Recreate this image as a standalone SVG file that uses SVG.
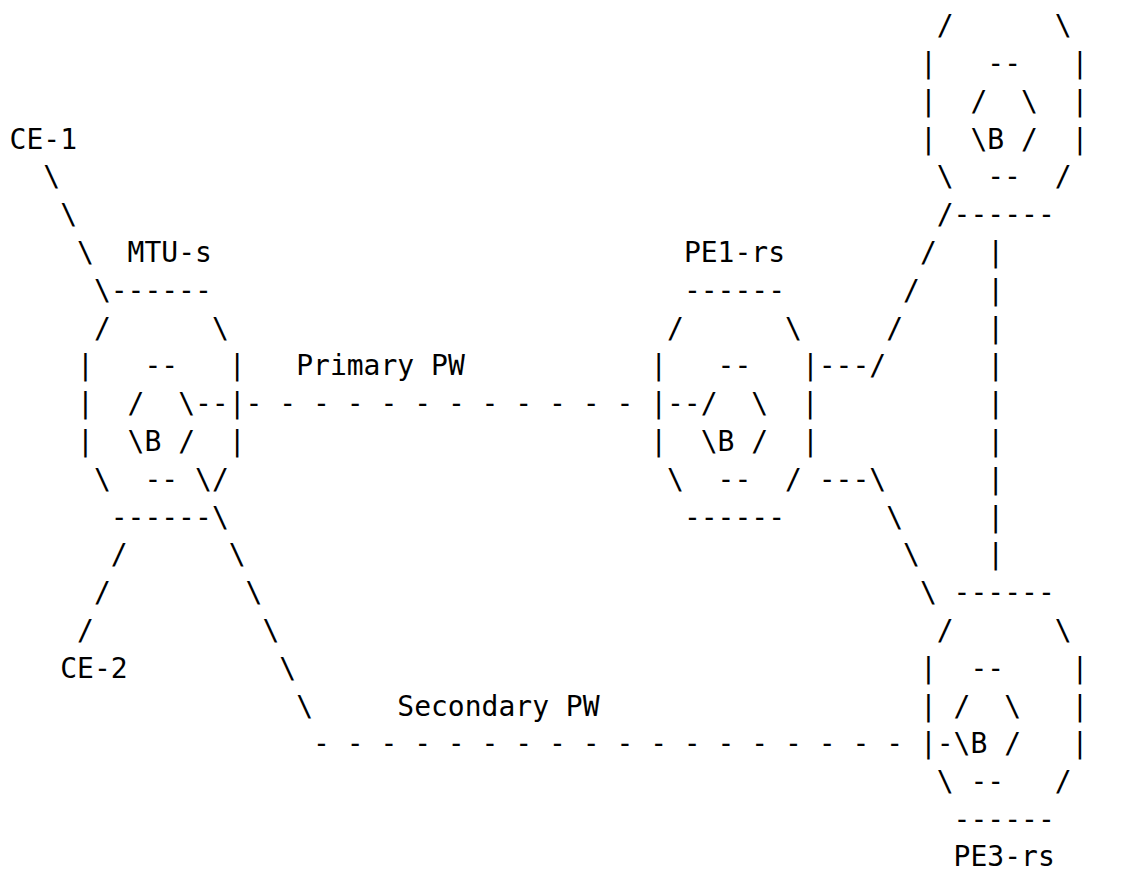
<svg xmlns="http://www.w3.org/2000/svg" width="1121" height="869" viewBox="0 0 1121 869" xml:space="preserve">
<style>
text { font-family: "DejaVu Sans Mono", "Liberation Mono", monospace; font-size: 28px; fill: #000; white-space: pre; }
</style>
<rect x="0" y="0" width="1121" height="869" fill="#fff"/>
<g id="CE-1"><text x="9.6" y="148.5">CE-1</text></g>
<g id="CE-2"><text x="60.2" y="677.7">CE-2</text></g>
<g id="MTU-s">
<text x="127.6" y="261.9">MTU-s</text>
<text x="110.7" y="299.7">------</text>
<text x="93.9" y="337.5">/      \</text>
<text x="77.0" y="375.3">|   --   |</text>
<text x="77.0" y="413.1">|  /  \</text>
<text x="228.7" y="413.1">|</text>
<text x="77.0" y="450.9">|  \B /  |</text>
<text x="93.9" y="488.7">\  --</text>
<text x="211.9" y="488.7">/</text>
<text x="110.7" y="526.5">------</text>
</g>
<g id="PE1-rs">
<text x="683.9" y="261.9">PE1-rs</text>
<text x="683.9" y="299.7">------</text>
<text x="667.0" y="337.5">/      \</text>
<text x="650.2" y="375.3">|   --   |</text>
<text x="650.2" y="413.1">|</text>
<text x="700.7" y="413.1">/  \  |</text>
<text x="650.2" y="450.9">|  \B /  |</text>
<text x="667.0" y="488.7">\  --  /</text>
<text x="683.9" y="526.5">------</text>
</g>
<g id="PE2-rs">
<text x="936.7" y="35.1">/      \</text>
<text x="919.9" y="72.9">|   --   |</text>
<text x="919.9" y="110.7">|  /  \  |</text>
<text x="919.9" y="148.5">|  \B /  |</text>
<text x="936.7" y="186.3">\  --  /</text>
<text x="953.6" y="224.1">------</text>
</g>
<g id="PE3-rs">
<text x="953.6" y="602.1">------</text>
<text x="936.7" y="639.9">/      \</text>
<text x="919.9" y="677.7">|  --    |</text>
<text x="919.9" y="715.5">| /  \   |</text>
<text x="919.9" y="753.3">|</text>
<text x="953.6" y="753.3">\B /   |</text>
<text x="936.7" y="791.1">\ --   /</text>
<text x="953.6" y="828.9">------</text>
<text x="953.6" y="865.5">PE3-rs</text>
</g>
<g id="connectors">
<g id="ce1-link">
<text x="43.3" y="186.3">\</text>
<text x="60.2" y="224.1">\</text>
<text x="77.0" y="261.9">\</text>
<text x="93.9" y="299.7">\</text>
</g>
<g id="ce2-link">
<text x="110.7" y="564.3">/</text>
<text x="93.9" y="602.1">/</text>
<text x="77.0" y="639.9">/</text>
</g>
<g id="primary-pw">
<text x="195.0" y="413.1">--</text>
<text x="245.6" y="413.1">- - - - - - - - - - - -</text>
<text x="667.0" y="413.1">--</text>
<text x="296.2" y="375.3">Primary PW</text>
</g>
<g id="secondary-pw">
<text x="195.0" y="488.7">\</text>
<text x="211.9" y="526.5">\</text>
<text x="228.7" y="564.3">\</text>
<text x="245.6" y="602.1">\</text>
<text x="262.5" y="639.9">\</text>
<text x="279.3" y="677.7">\</text>
<text x="296.2" y="715.5">\</text>
<text x="313.0" y="753.3">- - - - - - - - - - - - - - - - - -</text>
<text x="936.7" y="753.3">-</text>
<text x="397.3" y="715.5">Secondary PW</text>
</g>
<g id="pe1-pe2-link">
<text x="818.7" y="375.3">---/</text>
<text x="886.2" y="337.5">/</text>
<text x="903.0" y="299.7">/</text>
<text x="919.9" y="261.9">/</text>
<text x="936.7" y="224.1">/</text>
</g>
<g id="pe1-pe3-link">
<text x="818.7" y="488.7">---\</text>
<text x="886.2" y="526.5">\</text>
<text x="903.0" y="564.3">\</text>
<text x="919.9" y="602.1">\</text>
</g>
<g id="pe2-pe3-link">
<text x="987.3" y="261.9">|</text>
<text x="987.3" y="299.7">|</text>
<text x="987.3" y="337.5">|</text>
<text x="987.3" y="375.3">|</text>
<text x="987.3" y="413.1">|</text>
<text x="987.3" y="450.9">|</text>
<text x="987.3" y="488.7">|</text>
<text x="987.3" y="526.5">|</text>
<text x="987.3" y="564.3">|</text>
</g>
</g>
</svg>
